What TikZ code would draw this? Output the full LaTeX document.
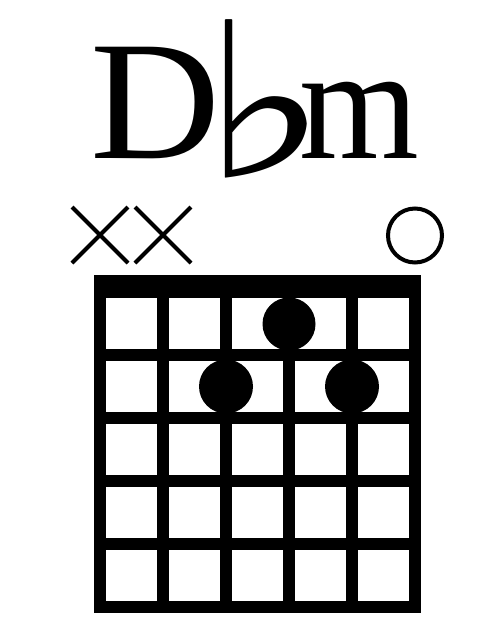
\documentclass[tikz,border=0pt]{standalone}
\usepackage{fontspec}
\setmainfont{Liberation Serif}
\newfontfamily\symfont{DejaVu Sans}

\begin{document}
\begin{tikzpicture}[x=1pt,y=-1pt,
  fretline/.style={line width=12pt},
  mutemark/.style={line width=4pt},
  fingerdot/.style={fill=black}]
\useasboundingbox (0,0) rectangle (500,625);
% chord name
\node[anchor=base west,inner sep=0pt,xscale=1.06,font=\fontsize{170}{170}\selectfont] (nameD) at (90,158) {\makebox[100pt][l]{D}};
\node[anchor=base west,inner sep=0pt,xscale=1.35,yscale=1.08,font=\symfont\fontsize{200}{200}\selectfont] (nameflat) at (201,177) {\makebox[60pt][l]{♭}};
\node[anchor=base west,inner sep=0pt,xscale=0.95,font=\fontsize{162}{162}\selectfont] (namem) at (299,158) {m};
% muted and open strings
\draw[mutemark] (72,207) -- (128,263) (72,263) -- (128,207);
\draw[mutemark] (135,207) -- (191,263) (135,263) -- (191,207);
\draw[mutemark] (415,235.5) circle (27);
% nut and grid
\fill (94,275) rectangle (421,298);
\foreach \x in {100,163,...,415}
  \draw[fretline] (\x,275) -- (\x,613);
\foreach \y in {355,418,...,607}
  \draw[fretline] (94,\y) -- (421,\y);
% fingers
\fill[fingerdot] (289,324) circle (26.5);
\fill[fingerdot] (226,386.5) circle (27);
\fill[fingerdot] (352,386.5) circle (27);
\end{tikzpicture}
\end{document}
